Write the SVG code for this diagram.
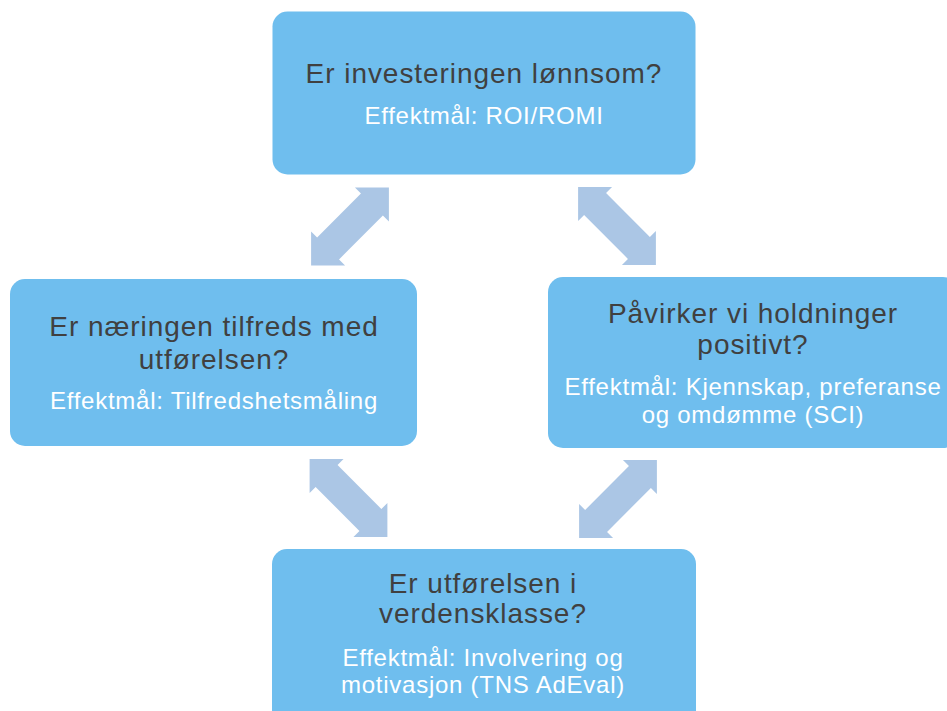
<svg xmlns="http://www.w3.org/2000/svg" xmlns:xlink="http://www.w3.org/1999/xlink" width="947" height="711" viewBox="0 0 947 711">
  <style>
    .box { fill: #6FBEEE; }
    .t { font-family: "Liberation Sans", Arial, sans-serif; font-size: 28px; letter-spacing: 0.95px; fill: #404040; text-anchor: middle; }
    .s { font-family: "Liberation Sans", Arial, sans-serif; font-size: 24px; letter-spacing: 0.75px; fill: #FFFFFF; text-anchor: middle; }
    .arrow { fill: #ABC6E5; }
  </style>
  <defs>
    <polygon id="dblarrow" points="-55,0 -31,-24 -31,-15.5 31,-15.5 31,-24 55,0 31,24 31,15.5 -31,15.5 -31,24"/>
  </defs>
  <rect width="947" height="711" fill="#FFFFFF"/>
  <g id="connectors" class="arrow">
    <use xlink:href="#dblarrow" href="#dblarrow" transform="translate(350,226.5) rotate(-45)"/>
    <use xlink:href="#dblarrow" href="#dblarrow" transform="translate(617,226) rotate(45)"/>
    <use xlink:href="#dblarrow" href="#dblarrow" transform="translate(348.5,498) rotate(45)"/>
    <use xlink:href="#dblarrow" href="#dblarrow" transform="translate(618,499) rotate(-45)"/>
  </g>
  <g id="node-top">
    <rect class="box" x="272.5" y="11.5" width="423" height="163" rx="15"/>
    <text class="t" x="484" y="83.3">Er investeringen lønnsom?</text>
    <text class="s" x="484" y="124">Effektmål: ROI/ROMI</text>
  </g>
  <g id="node-right">
    <rect class="box" x="548" y="277" width="410" height="171" rx="15"/>
    <text class="t" x="753" y="322.5">Påvirker vi holdninger</text>
    <text class="t" x="753" y="353.5">positivt?</text>
    <text class="s" x="753" y="395">Effektmål: Kjennskap, preferanse</text>
    <text class="s" x="753" y="422.5">og omdømme (SCI)</text>
  </g>
  <g id="node-left">
    <rect class="box" x="10" y="279" width="407" height="167" rx="15"/>
    <text class="t" x="214" y="335.5">Er næringen tilfreds med</text>
    <text class="t" x="214" y="368.5">utførelsen?</text>
    <text class="s" x="214" y="409">Effektmål: Tilfredshetsmåling</text>
  </g>
  <g id="node-bottom">
    <rect class="box" x="272" y="549" width="424" height="180" rx="15"/>
    <text class="t" x="483" y="592.5">Er utførelsen i</text>
    <text class="t" x="483" y="622.5">verdensklasse?</text>
    <text class="s" x="483" y="666">Effektmål: Involvering og</text>
    <text class="s" x="483" y="693">motivasjon (TNS AdEval)</text>
  </g>
</svg>
